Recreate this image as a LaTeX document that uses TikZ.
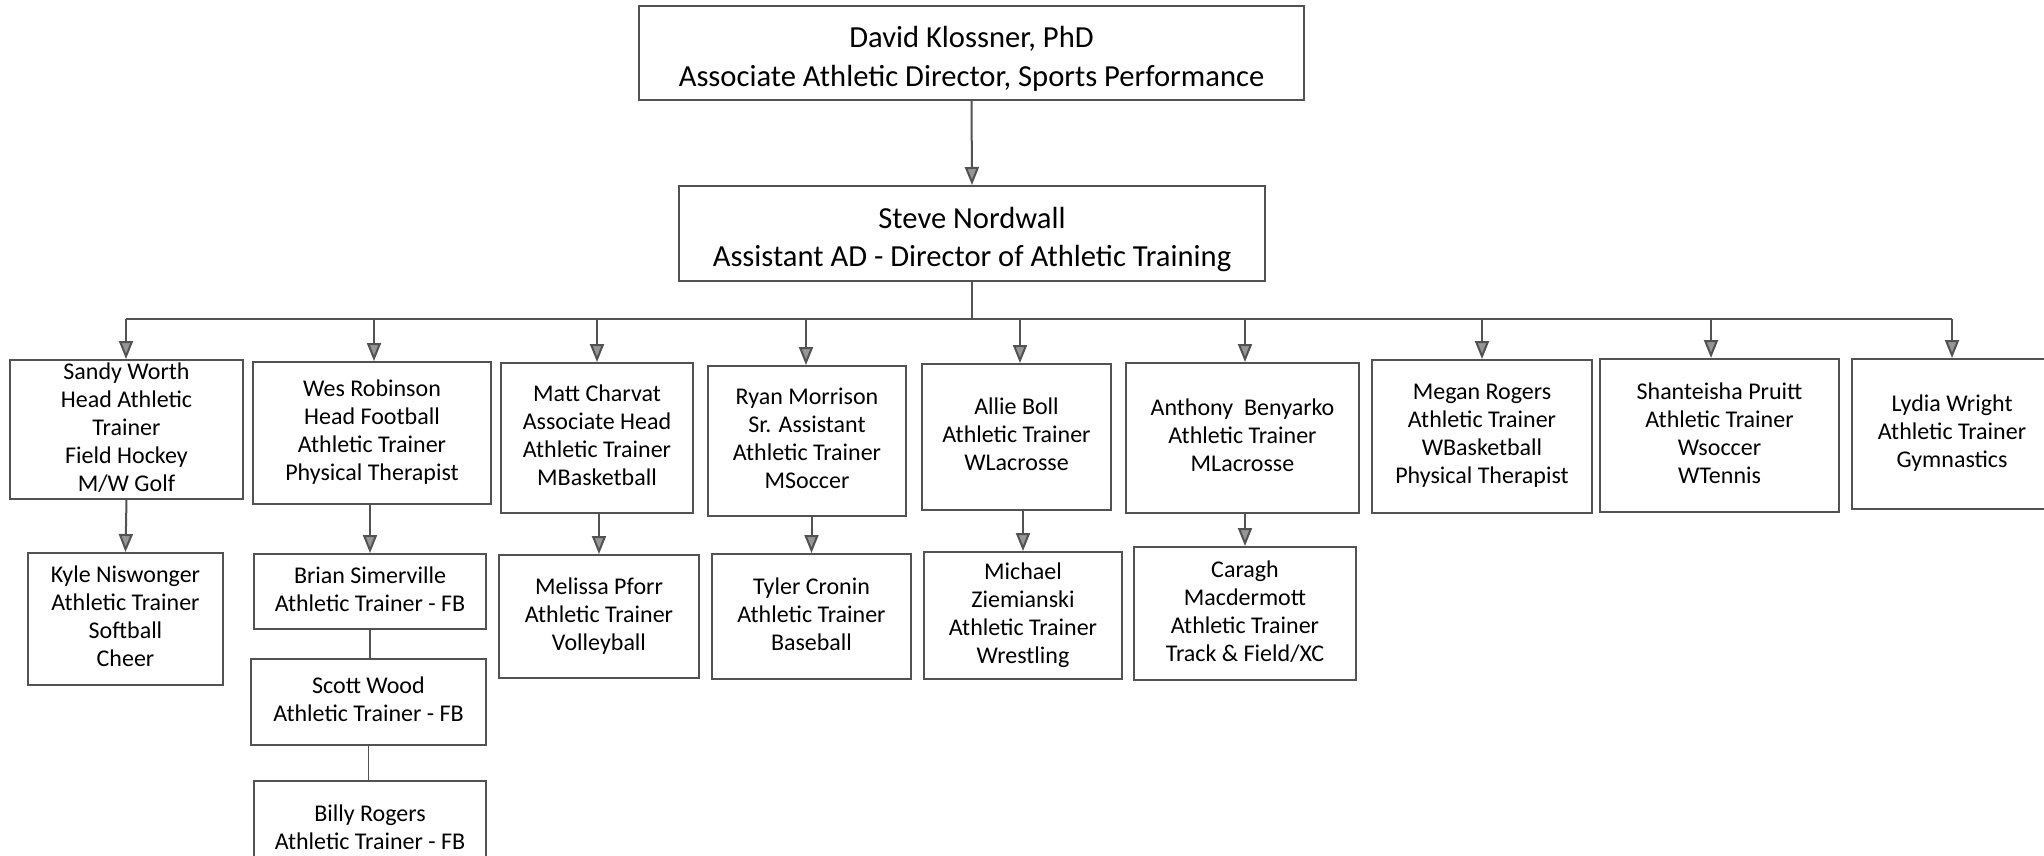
\documentclass[tikz,border=0pt]{standalone}
\usepackage{fontspec}
\setmainfont{Carlito}
\usetikzlibrary{arrows.meta}
\definecolor{rule}{RGB}{82,82,82}
\definecolor{tipfill}{RGB}{150,150,150}
% extra head room above the first line of the two leadership cards
\newcommand{\headroom}{\rule{0pt}{16.5pt}}
\tikzset{
  card/.style={draw=rule, line width=1pt, inner sep=0pt, align=center,
    font=\fontsize{12}{14}\selectfont, text=black,
    execute at end node={\rule[-2.4pt]{0pt}{2.4pt}}},
  headcard/.style={card, font=\fontsize{15.3}{19.2}\selectfont},
  % box given by its corners x1, y1, x2, y2 (in drawing units)
  span/.style n args={4}{minimum width={(#3-#1)*0.5pt},
    minimum height={(#4-#2)*0.5pt}, at={({(#1+#3)/2},{(#2+#4)/2})}},
  link/.style={draw=rule, line width=1pt},
  thinlink/.style={draw=rule, line width=0.6pt},
  feed/.style={link, -{Triangle[width=7pt,length=9pt,fill=tipfill]}},
}
\begin{document}
\begin{tikzpicture}[x=0.5pt,y=-0.5pt]
\useasboundingbox (0,0) rectangle (2044,856);
\fill[white] (0,0) rectangle (2044,856);

% leadership
\node[headcard, span={639}{6}{1304}{100}] (klossner)
  {\headroom David Klossner, PhD\\Associate Athletic Director, Sports Performance};
\node[headcard, span={679}{186}{1265}{281}] (nordwall)
  {\headroom Steve Nordwall\\Assistant AD - Director of Athletic Training};

% first row of staff
\node[card, span={10}{360}{243}{499}] (sandy)
  {Sandy Worth\\Head Athletic\\Trainer\\Field Hockey\\M/W Golf};
\node[card, span={253}{362}{491}{504}] (wes)
  {Wes Robinson\\Head Football\\Athletic Trainer\\Physical Therapist};
\node[card, span={501}{363}{693}{513}] (matt)
  {Matt Charvat\\Associate Head\\Athletic Trainer\\MBasketball};
\node[card, span={708}{366}{906}{516}] (ryan)
  {Ryan Morrison\\Sr. Assistant\\Athletic Trainer\\MSoccer};
\node[card, span={922}{364}{1111}{510}] (allie)
  {Allie Boll\\Athletic Trainer\\WLacrosse};
\node[card, span={1126}{363}{1359}{513}] (anthony)
  {Anthony\ \ Benyarko\\Athletic Trainer\\MLacrosse};
\node[card, span={1372}{360}{1592}{513}] (megan)
  {Megan Rogers\\Athletic Trainer\\WBasketball\\Physical Therapist};
\node[card, span={1600}{359}{1839}{512}] (shanteisha)
  {Shanteisha Pruitt\\Athletic Trainer\\Wsoccer\\WTennis};
\node[card, span={1852}{359}{2052}{509}] (lydia)
  {Lydia Wright\\Athletic Trainer\\Gymnastics};

% second row of staff
\node[card, span={28}{553}{223}{685}] (kyle)
  {Kyle Niswonger\\Athletic Trainer\\Softball\\Cheer};
\node[card, span={254}{554}{486}{629}] (brian)
  {Brian Simerville\\Athletic Trainer - FB};
\node[card, span={251}{659}{486}{745}] (scott)
  {Scott Wood\\Athletic Trainer - FB};
\node[card, span={254}{781}{486}{879}] (billy)
  {Billy Rogers\\Athletic Trainer - FB};
\node[card, span={499}{555}{699}{678}] (melissa)
  {Melissa Pforr\\Athletic Trainer\\Volleyball};
\node[card, span={712}{554}{911}{679}] (tyler)
  {Tyler Cronin\\Athletic Trainer\\Baseball};
\node[card, span={924}{552}{1122}{679}] (michael)
  {Michael\\Ziemianski\\Athletic Trainer\\Wrestling};
\node[card, span={1134}{547}{1356}{680}] (caragh)
  {Caragh\\Macdermott\\Athletic Trainer\\Track \& Field/XC};

% reporting lines
\draw[feed] (klossner.south) -- (nordwall.north);

\coordinate (busL) at (126,319);
\coordinate (busR) at (1952,319);
\draw[link] (nordwall.south) -- (nordwall.south |- busL);
\draw[link] (busL) -- (busR);

\foreach \who/\xpos in {sandy/126, wes/374, matt/597, ryan/806, allie/1020,
    anthony/1245, megan/1482, shanteisha/1711, lydia/1952} {
  \coordinate (tap-\who) at (\xpos,319);
  \draw[feed] (tap-\who) -- (tap-\who |- \who.north);
}

\draw[feed] (sandy.south) -- (kyle.north);
\draw[feed] (brian.north |- wes.south) -- (brian.north);
\draw[feed] (melissa.north |- matt.south) -- (melissa.north);
\draw[feed] (tyler.north |- ryan.south) -- (tyler.north);
\draw[feed] (michael.north |- allie.south) -- (michael.north);
\draw[feed] (caragh.north |- anthony.south) -- (caragh.north);

\draw[thinlink] (brian.south) -- (brian.south |- scott.north);
\draw[thinlink] (scott.south) -- (scott.south |- billy.north);
\end{tikzpicture}
\end{document}
